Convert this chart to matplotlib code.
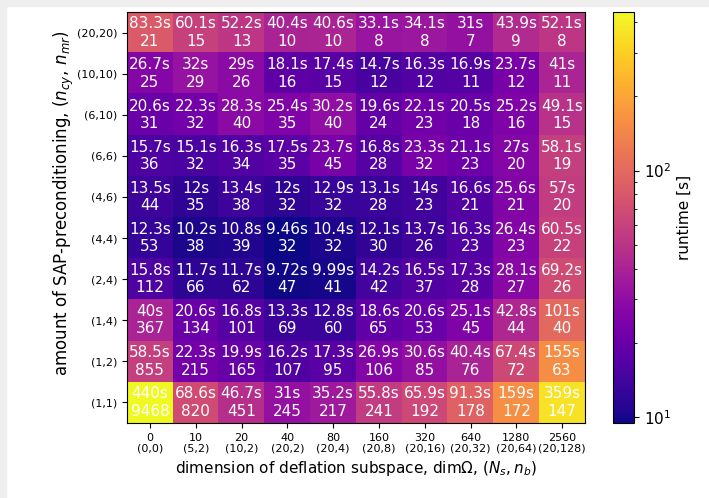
import numpy as np
import matplotlib
matplotlib.use('Agg')
import matplotlib.pyplot as plt
from matplotlib.colors import LogNorm
from matplotlib.patches import Rectangle

# rows from bottom (1,1) to top (20,20)
sap_labels = ['(1,1)', '(1,2)', '(1,4)', '(2,4)', '(4,4)', '(4,6)', '(6,6)', '(6,10)', '(10,10)', '(20,20)']
defl_labels = ['0\n(0,0)', '10\n(5,2)', '20\n(10,2)', '40\n(20,2)', '80\n(20,4)',
               '160\n(20,8)', '320\n(20,16)', '640\n(20,32)', '1280\n(20,64)', '2560\n(20,128)']

runtime = np.array([
  [440, 68.6, 46.7, 31, 35.2, 55.8, 65.9, 91.3, 159, 359],
  [58.5, 22.3, 19.9, 16.2, 17.3, 26.9, 30.6, 40.4, 67.4, 155],
  [40, 20.6, 16.8, 13.3, 12.8, 18.6, 20.6, 25.1, 42.8, 101],
  [15.8, 11.7, 11.7, 9.72, 9.99, 14.2, 16.5, 17.3, 28.1, 69.2],
  [12.3, 10.2, 10.8, 9.46, 10.4, 12.1, 13.7, 16.3, 26.4, 60.5],
  [13.5, 12, 13.4, 12, 12.9, 13.1, 14, 16.6, 25.6, 57],
  [15.7, 15.1, 16.3, 17.5, 23.7, 16.8, 23.3, 21.1, 27, 58.1],
  [20.6, 22.3, 28.3, 25.4, 30.2, 19.6, 22.1, 20.5, 25.2, 49.1],
  [26.7, 32, 29, 18.1, 17.4, 14.7, 16.3, 16.9, 23.7, 41],
  [83.3, 60.1, 52.2, 40.4, 40.6, 33.1, 34.1, 31, 43.9, 52.1],
])

iterations = np.array([
  [9468, 820, 451, 245, 217, 241, 192, 178, 172, 147],
  [855, 215, 165, 107, 95, 106, 85, 76, 72, 63],
  [367, 134, 101, 69, 60, 65, 53, 45, 44, 40],
  [112, 66, 62, 47, 41, 42, 37, 28, 27, 26],
  [53, 38, 39, 32, 32, 30, 26, 23, 23, 22],
  [44, 35, 38, 32, 32, 28, 23, 21, 21, 20],
  [36, 32, 34, 35, 45, 28, 32, 23, 20, 19],
  [31, 32, 40, 35, 40, 24, 23, 18, 16, 15],
  [25, 29, 26, 16, 15, 12, 12, 11, 12, 11],
  [21, 15, 13, 10, 10, 8, 8, 7, 9, 8],
])


def main():
  fig = plt.figure(figsize=(7.09, 4.98), dpi=100)
  # light gray screenshot border at top and left
  fig.patches.append(Rectangle((0, 1 - 6 / 498), 1, 6 / 498, transform=fig.transFigure,
                               color='#eeeeee', zorder=0))
  fig.patches.append(Rectangle((0, 0), 6 / 709, 1, transform=fig.transFigure,
                               color='#eeeeee', zorder=0))

  ax = fig.add_axes([127 / 709, 1 - 423 / 498, (585 - 127) / 709, (423 - 12) / 498])
  cax = fig.add_axes([613 / 709, 1 - 423 / 498, (634 - 613) / 709, (423 - 12) / 498])

  im = ax.imshow(runtime, cmap='plasma', norm=LogNorm(vmin=runtime.min(), vmax=runtime.max()),
                 origin='lower', aspect='auto')

  for i in range(runtime.shape[0]):
    for j in range(runtime.shape[1]):
      ax.text(j, i, '%.3gs\n%d' % (runtime[i, j], iterations[i, j]),
              ha='center', va='center', color='white', fontsize=11)

  ax.set_xticks(range(len(defl_labels)))
  ax.set_xticklabels(defl_labels, fontsize=8, linespacing=1.1)
  ax.set_yticks(range(len(sap_labels)))
  ax.set_yticklabels(sap_labels, fontsize=8)
  ax.set_xlabel(r'dimension of deflation subspace, dim$\Omega$, $(N_s, n_b)$', fontsize=11)
  ax.set_ylabel(r'amount of SAP-preconditioning, $(n_{cy},\,n_{mr})$', fontsize=12)
  ax.yaxis.set_label_coords(-0.112, 0.535)

  cb = fig.colorbar(im, cax=cax)
  cb.set_label('runtime [s]', fontsize=11)
  cb.ax.tick_params(labelsize=11)

  fig.savefig('out.png', dpi=100)


if __name__ == '__main__':
  main()
